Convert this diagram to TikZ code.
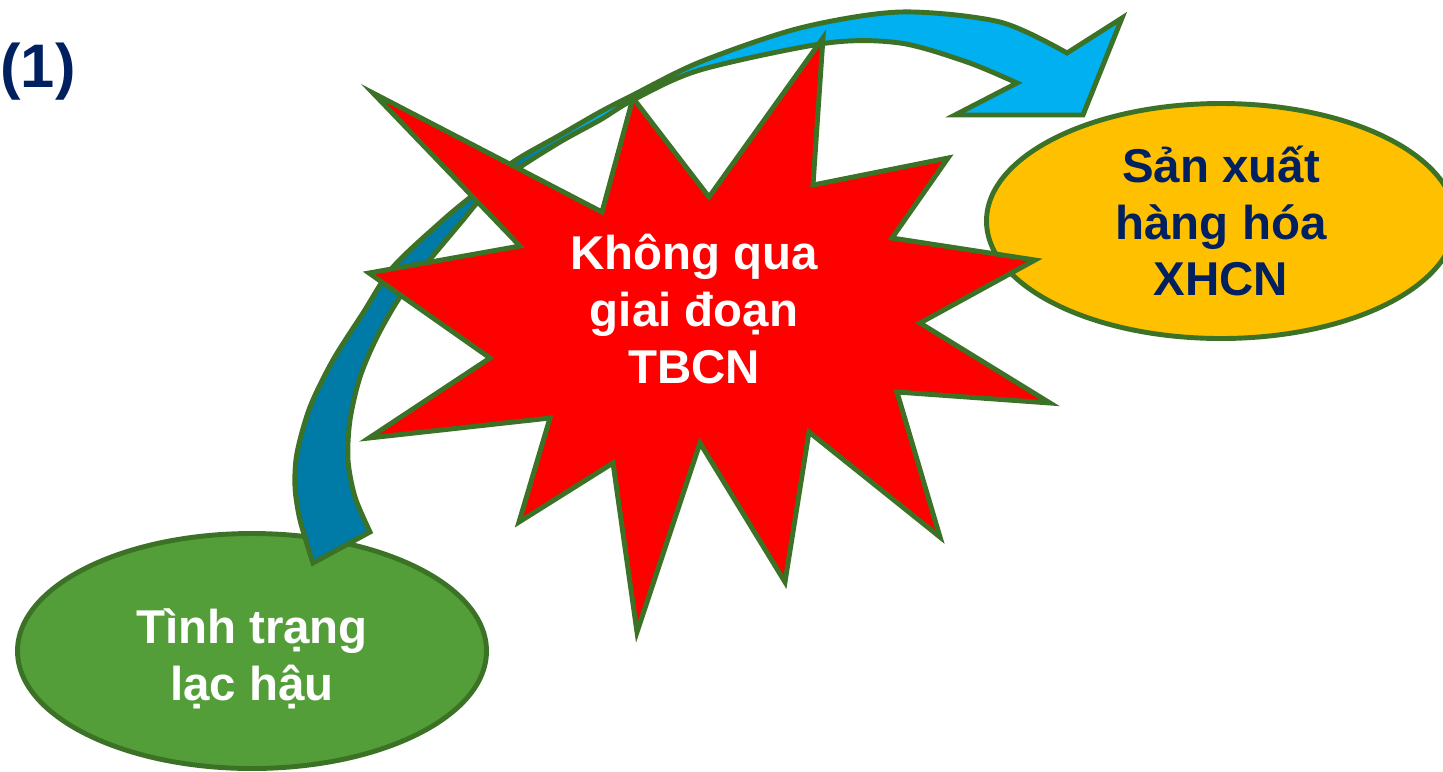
\documentclass[tikz,border=0pt]{standalone}
\usepackage{fontspec}
\setmainfont{Liberation Sans}
\usetikzlibrary{shapes.geometric}
\definecolor{navy}{RGB}{0,32,96}
\definecolor{edge}{RGB}{60,114,38}
\definecolor{leaf}{RGB}{84,158,58}
\definecolor{gold}{RGB}{255,192,0}
\definecolor{sky}{RGB}{0,176,240}
\definecolor{deepsea}{RGB}{0,122,166}
\tikzset{
  big/.style={font=\fontsize{27}{32.4}\selectfont\bfseries,align=center},
  blob/.style={ellipse,draw=edge,line width=2.8pt,fill=#1,inner sep=0pt,
    minimum width=93.8mm,minimum height=47mm,big},
  blob/.default=leaf,
  burst/.style={draw=edge,line width=2.8pt,fill=red},
  band/.style={draw=edge,line width=2.8pt,fill=sky,
    path picture={
      \fill[deepsea] (0,0) rectangle (520,800);
      \shade[left color=deepsea,right color=sky] (520,0) rectangle (600,800);
    }},
}

\begin{document}
\begin{tikzpicture}[x=0.2mm,y=-0.2mm]
  \useasboundingbox (0,0) rectangle (1443,771);
  \node[blob=gold,text=navy] (goal) at (1221,221) {Sản xuất\\hàng hóa\\XHCN};
  \node[blob] (start) at (252,651) {};
  \node[big,text=white] (startlbl) at ([yshift=-1.5mm]start.center) {Tình trạng\\lạc hậu};
  % curved block arrow
  \draw[band] plot[smooth] coordinates {(313,563) (300,520) (295,487) (297,453)
      (310,407) (333,360) (363,313) (393,267) (443,220) (473,195) (513,162)
      (560,135) (600,112) (633,95) (700,62) (800,28) (900,12) (1000,22)
      (1067,53)}
    -- (1122,18) -- (1083,115) -- (955,115)
    -- plot[smooth] coordinates {(1017,83) (967,62) (900,43) (827,43) (700,70)
      (633,100) (600,120) (560,142) (513,172) (480,200) (463,220) (427,263)
      (400,297) (377,337) (360,377) (350,420) (348,460) (355,497) (370,532)}
    -- cycle;
  % explosion
  \draw[burst] (373,93) -- (602,212) -- (633,98) -- (709,197) -- (823,38)
    -- (813,185) -- (948,158) -- (892,238) -- (1035,260) -- (920,323)
    -- (1050,403) -- (897,392) -- (940,537) -- (809,432) -- (785,582)
    -- (700,443) -- (637,632) -- (613,463) -- (519,522) -- (550,418)
    -- (369,438) -- (490,358) -- (369,273) -- (520,246) -- cycle;
  \node[big,text=white] (skip) at (694,309) {Không qua\\giai đoạn\\TBCN};
  \node[font=\fontsize{35}{42}\selectfont\bfseries,text=navy,anchor=west,
    inner sep=0pt] (num) at (0,72) {(1)};
\end{tikzpicture}
\end{document}
